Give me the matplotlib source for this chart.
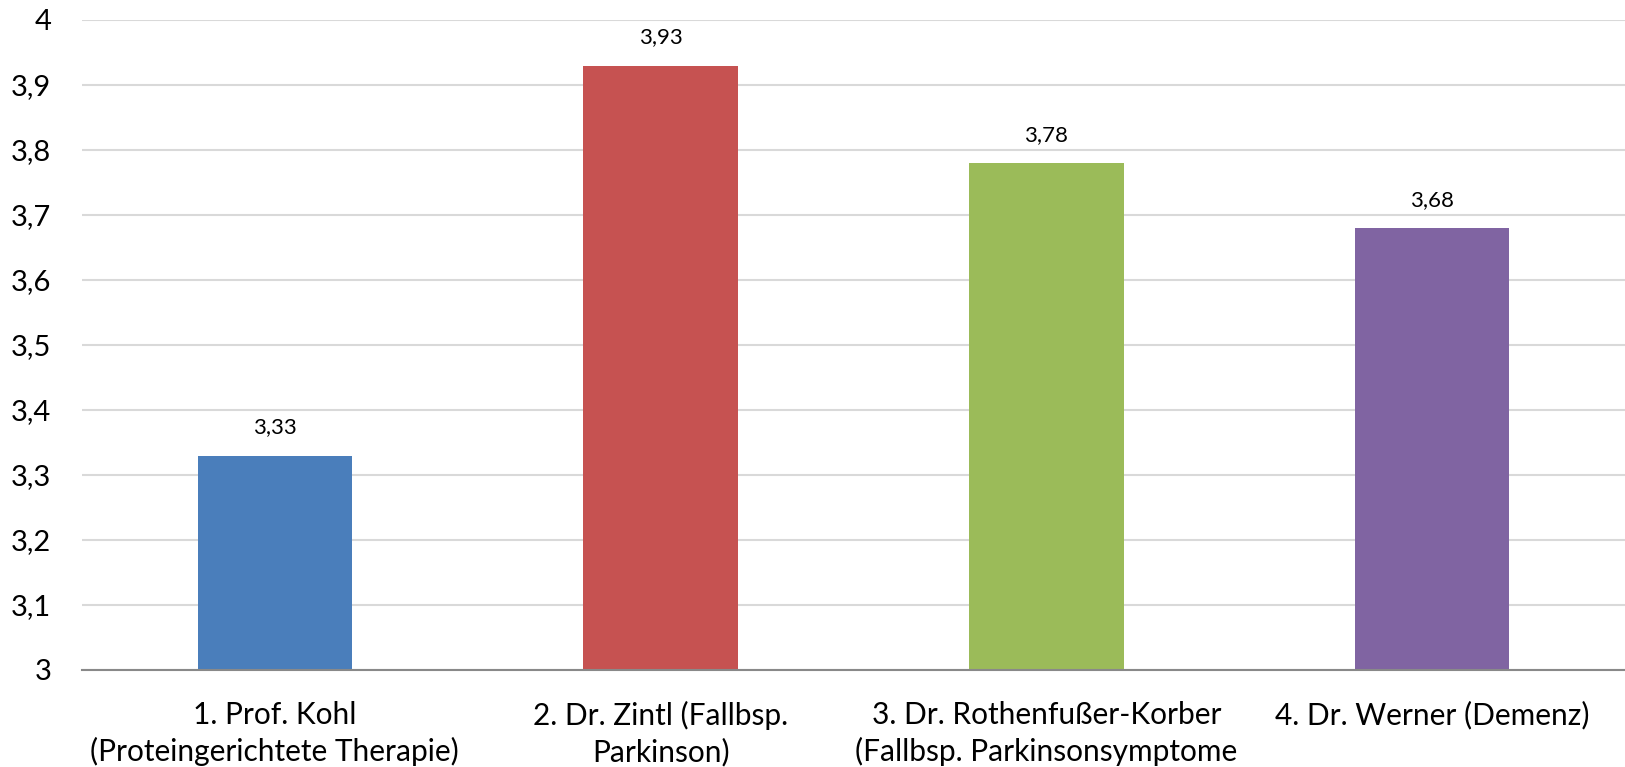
import matplotlib
matplotlib.use("Agg")
import matplotlib.pyplot as plt

categories = ["1. Prof. Kohl\n(Proteingerichtete Therapie)",
              "2. Dr. Zintl (Fallbsp.\nParkinson)",
              "3. Dr. Rothenfußer-Korber\n(Fallbsp. Parkinsonsymptome",
              "4. Dr. Werner (Demenz)"]
values = [3.33, 3.93, 3.78, 3.68]
value_labels = ["3,33", "3,93", "3,78", "3,68"]
colors = ["#4A7EBB", "#C65251", "#9BBB59", "#8064A2"]
yticks = [3.0, 3.1, 3.2, 3.3, 3.4, 3.5, 3.6, 3.7, 3.8, 3.9, 4.0]
ytick_labels = ["3", "3,1", "3,2", "3,3", "3,4", "3,5", "3,6", "3,7", "3,8", "3,9", "4"]

plt.rcParams['font.family'] = ['Lato', 'DejaVu Sans']

W, H = 1625, 767
fig = plt.figure(figsize=(W / 100, H / 100), dpi=100)
ax = fig.add_axes([82 / W, 1 - 670 / H, (W - 82) / W, 650 / H])

x = list(range(len(categories)))
ax.bar(x, [v - 3 for v in values], bottom=3, width=0.40, color=colors, zorder=3)
for xi, v, lab in zip(x, values, value_labels):
    ax.annotate(lab, (xi, v), xytext=(0, 13), textcoords="offset points",
                ha="center", va="bottom", fontsize=16, color="#000000")

ax.set_xlim(-0.5, len(categories) - 0.5)
ax.set_ylim(3, 4)
ax.set_yticks(yticks)
ax.set_yticklabels(ytick_labels, fontsize=21)
ax.set_xticks(x)
ax.set_xticklabels(categories, fontsize=21.5, linespacing=1.36)
ax.tick_params(axis="both", length=0)
ax.tick_params(axis="y", pad=22)
ax.tick_params(axis="x", pad=22)
ax.yaxis.grid(True, color="#D9D9D9", linewidth=1.5, zorder=0)
for s in ["top", "right", "left"]:
    ax.spines[s].set_visible(False)
ax.spines["bottom"].set_color("#898989")
ax.spines["bottom"].set_linewidth(1.5)
ax.spines["bottom"].set_zorder(4)

fig.savefig("out.png", dpi=100, facecolor="white")
